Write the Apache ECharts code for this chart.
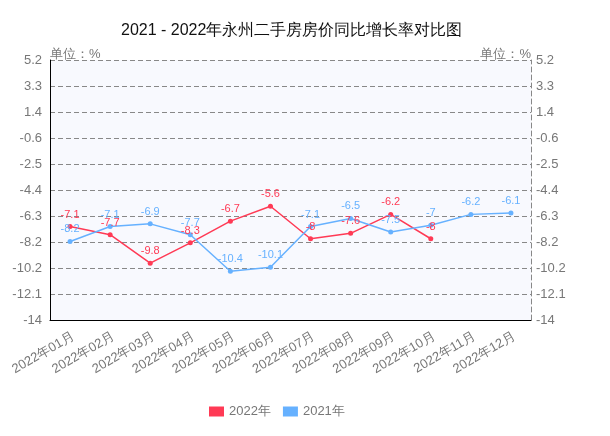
<!DOCTYPE html>
<html>
<head>
<meta charset="utf-8">
<script src="https://cdn.jsdelivr.net/npm/echarts@6/dist/echarts.min.js"></script>
<style>html,body{margin:0;padding:0;background:#fff}#c{width:610px;height:436px}</style>
</head>
<body>
<div id="c"></div>
<script>
var categories = ['2022年01月','2022年02月','2022年03月','2022年04月','2022年05月','2022年06月','2022年07月','2022年08月','2022年09月','2022年10月','2022年11月','2022年12月'];
var series2022 = [-7.1, -7.7, -9.8, -8.3, -6.7, -5.6, -8, -7.6, -6.2, -8, null, null];
var series2021 = [-8.2, -7.1, -6.9, -7.7, -10.4, -10.1, -7.1, -6.5, -7.5, -7, -6.2, -6.1];
var yTicks = [-14, -12.08, -10.16, -8.24, -6.32, -4.4, -2.48, -0.56, 1.36, 3.28, 5.2];
var titleText = '2021 - 2022年永州二手房房价同比增长率对比图';
var unitName = '单位：%';

var FONT = 'sans-serif';
var chart = echarts.init(document.getElementById('c'));
function fmt(v){ return String(Math.round(v*10)/10); }
var yBase = {
  type: 'value', min: -14, max: 5.2,
  name: unitName, nameLocation: 'end', nameGap: -1, nameMoveOverlap: false,
  axisTick: { show: false, customValues: yTicks },
  axisLabel: { customValues: yTicks, formatter: fmt, color: '#777', fontSize: 13, fontFamily: FONT }
};
chart.setOption({
  animation: false,
  title: { text: titleText, left: 116, top: 18, textStyle: { fontSize: 16, fontWeight: 'normal', color: '#111', fontFamily: FONT } },
  legend: {
    left: 204, top: 400, itemWidth: 15, itemHeight: 10, itemGap: 12, icon: 'rect',
    textStyle: { color: '#777', fontSize: 13, fontFamily: FONT },
    data: ['2022年', '2021年']
  },
  grid: { left: 50, right: 79, top: 60, bottom: 116, show: true, backgroundColor: '#f8f9fe', borderWidth: 0 },
  xAxis: {
    type: 'category', data: categories, boundaryGap: true,
    axisLine: { onZero: false, lineStyle: { color: '#000', width: 1 } },
    axisTick: { alignWithLabel: true, length: 4, lineStyle: { color: '#888' } },
    axisLabel: { rotate: 30, interval: 0, color: '#777', fontSize: 13, fontFamily: FONT, margin: 10, verticalAlign: 'top' }
  },
  yAxis: [
    Object.assign({}, yBase, {
      position: 'left',
      nameTextStyle: { align: 'left', color: '#777', fontSize: 13, fontFamily: FONT },
      axisLabel: Object.assign({}, yBase.axisLabel, { margin: 8 }),
      axisLine: { show: true, lineStyle: { color: '#000', width: 1 } },
      splitLine: { show: true, lineStyle: { color: '#888', type: [5, 3], width: 1 } }
    }),
    Object.assign({}, yBase, {
      position: 'right',
      nameTextStyle: { align: 'right', color: '#777', fontSize: 13, fontFamily: FONT },
      axisLabel: Object.assign({}, yBase.axisLabel, { margin: 5 }),
      axisLine: { show: true, lineStyle: { color: '#888', type: [5, 3], width: 1 } },
      splitLine: { show: false }
    })
  ],
  series: [
    {
      name: '2022年', type: 'line', data: series2022, yAxisIndex: 0,
      color: '#ff3a55', symbol: 'circle', symbolSize: 5,
      lineStyle: { width: 1.5 },
      label: { show: true, position: 'top', color: '#ff3a55', fontSize: 11, fontFamily: FONT, distance: 4 }
    },
    {
      name: '2021年', type: 'line', data: series2021, yAxisIndex: 0,
      color: '#66b1ff', symbol: 'circle', symbolSize: 5,
      lineStyle: { width: 1.5 },
      label: { show: true, position: 'top', color: '#66b1ff', fontSize: 11, fontFamily: FONT, distance: 4 }
    }
  ]
});
</script>
</body>
</html>
